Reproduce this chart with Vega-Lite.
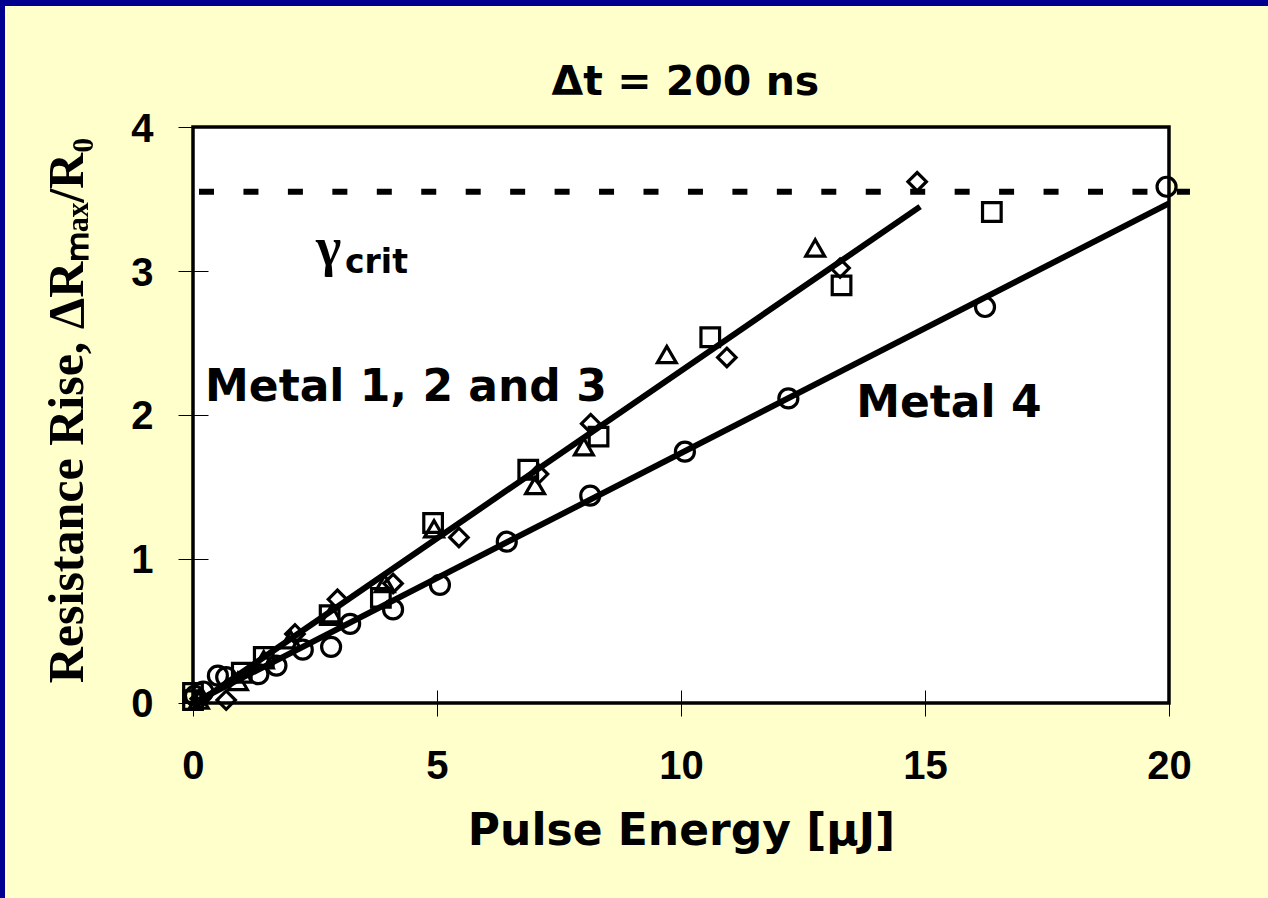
{
  "$schema": "https://vega.github.io/schema/vega-lite/v6.json",
  "autosize": {"type": "none"},
  "padding": {"left": 5, "top": 6, "right": 0, "bottom": 0},
  "width": 1263,
  "height": 892,
  "background": "#000090",
  "config": {"view": {"fill": "#FFFFCC", "stroke": null}},
  "datasets": {
    "frame": [{"x0": 0, "x1": 20, "y0": 0, "y1": 4}],
    "fits": [
      {"series": "Metal 1, 2 and 3", "energy": 0, "rise": -0.02},
      {"series": "Metal 1, 2 and 3", "energy": 14.9, "rise": 3.447},
      {"series": "Metal 4", "energy": 0, "rise": 0},
      {"series": "Metal 4", "energy": 20, "rise": 3.47}
    ],
    "points": [
      {"metal": "Metal 1", "energy": 0.15, "rise": 0.03},
      {"metal": "Metal 1", "energy": 0.68, "rise": 0.02},
      {"metal": "Metal 1", "energy": 2.09, "rise": 0.48},
      {"metal": "Metal 1", "energy": 2.96, "rise": 0.72},
      {"metal": "Metal 1", "energy": 4.1, "rise": 0.83},
      {"metal": "Metal 1", "energy": 5.45, "rise": 1.15},
      {"metal": "Metal 1", "energy": 7.08, "rise": 1.59},
      {"metal": "Metal 1", "energy": 8.15, "rise": 1.94},
      {"metal": "Metal 1", "energy": 10.94, "rise": 2.4},
      {"metal": "Metal 1", "energy": 13.26, "rise": 3.02},
      {"metal": "Metal 1", "energy": 14.84, "rise": 3.62},
      {"metal": "Metal 2", "energy": 0.0, "rise": 0.02},
      {"metal": "Metal 2", "energy": 0.0, "rise": 0.07},
      {"metal": "Metal 2", "energy": 1.0, "rise": 0.21},
      {"metal": "Metal 2", "energy": 1.45, "rise": 0.32},
      {"metal": "Metal 2", "energy": 2.8, "rise": 0.61},
      {"metal": "Metal 2", "energy": 3.85, "rise": 0.73},
      {"metal": "Metal 2", "energy": 4.92, "rise": 1.25},
      {"metal": "Metal 2", "energy": 6.87, "rise": 1.62},
      {"metal": "Metal 2", "energy": 8.31, "rise": 1.85},
      {"metal": "Metal 2", "energy": 10.6, "rise": 2.54},
      {"metal": "Metal 2", "energy": 13.29, "rise": 2.9},
      {"metal": "Metal 2", "energy": 16.37, "rise": 3.41},
      {"metal": "Metal 3", "energy": 0.12, "rise": 0.02},
      {"metal": "Metal 3", "energy": 0.92, "rise": 0.15},
      {"metal": "Metal 3", "energy": 1.45, "rise": 0.3},
      {"metal": "Metal 3", "energy": 2.0, "rise": 0.44},
      {"metal": "Metal 3", "energy": 2.84, "rise": 0.62},
      {"metal": "Metal 3", "energy": 3.93, "rise": 0.83},
      {"metal": "Metal 3", "energy": 4.94, "rise": 1.21},
      {"metal": "Metal 3", "energy": 7.01, "rise": 1.51},
      {"metal": "Metal 3", "energy": 8.01, "rise": 1.78},
      {"metal": "Metal 3", "energy": 9.71, "rise": 2.42},
      {"metal": "Metal 3", "energy": 12.75, "rise": 3.16},
      {"metal": "Metal 4", "energy": 0.04, "rise": 0.05},
      {"metal": "Metal 4", "energy": 0.21, "rise": 0.08},
      {"metal": "Metal 4", "energy": 0.51, "rise": 0.19},
      {"metal": "Metal 4", "energy": 0.68, "rise": 0.18},
      {"metal": "Metal 4", "energy": 1.34, "rise": 0.2},
      {"metal": "Metal 4", "energy": 1.71, "rise": 0.26},
      {"metal": "Metal 4", "energy": 2.25, "rise": 0.37},
      {"metal": "Metal 4", "energy": 2.83, "rise": 0.39},
      {"metal": "Metal 4", "energy": 3.22, "rise": 0.55},
      {"metal": "Metal 4", "energy": 4.1, "rise": 0.65},
      {"metal": "Metal 4", "energy": 5.06, "rise": 0.82},
      {"metal": "Metal 4", "energy": 6.43, "rise": 1.12},
      {"metal": "Metal 4", "energy": 8.14, "rise": 1.44},
      {"metal": "Metal 4", "energy": 10.08, "rise": 1.745},
      {"metal": "Metal 4", "energy": 12.2, "rise": 2.115},
      {"metal": "Metal 4", "energy": 16.23, "rise": 2.75},
      {"metal": "Metal 4", "energy": 19.95, "rise": 3.585}
    ],
    "critical": [{"name": "gamma crit", "level": 3.55, "start": 0.123, "end": 20.43}]
  },
  "layer": [
    {
      "data": {"name": "frame"},
      "mark": {"type": "rect", "fill": "white", "stroke": "black", "strokeWidth": 3.5},
      "encoding": {
        "x": {
          "field": "x0", "type": "quantitative",
          "scale": {"domain": [-3.8525, 22.029], "nice": false, "zero": false},
          "axis": {
            "title": "Pulse Energy [μJ]",
            "values": [0, 5, 10, 15, 20],
            "format": "d",
            "offset": -208,
            "domain": false, "grid": false,
            "tickSize": 26, "tickWidth": 1, "tickColor": "black",
            "labelPadding": 30, "labelFlush": false, "labelOverlap": false,
            "labelFont": "Liberation Sans", "labelFontWeight": "bold", "labelFontSize": 40, "labelColor": "black",
            "titleFont": "DejaVu Sans", "titleFontWeight": "bold", "titleFontSize": 44, "titleColor": "black",
            "titleX": 676, "titleY": 154, "titleAlign": "center", "titleBaseline": "alphabetic",
            "zindex": 1
          }
        },
        "x2": {"field": "x1"},
        "y": {
          "field": "y0", "type": "quantitative",
          "scale": {"domain": [-1.3542, 4.8403], "nice": false, "zero": false},
          "axis": {
            "title": "Resistance Rise, ΔRₘₐₓ/R₀",
            "values": [0, 1, 2, 3, 4],
            "format": "d",
            "offset": -203,
            "domain": false, "grid": false,
            "tickSize": 30, "tickWidth": 1, "tickColor": "black",
            "labelPadding": 25, "labelOffset": 2, "labelFlush": false, "labelOverlap": false,
            "labelFont": "Liberation Sans", "labelFontWeight": "bold", "labelFontSize": 40, "labelColor": "black",
            "titleFont": "Liberation Serif", "titleFontWeight": "bold", "titleFontSize": 50, "titleColor": "black",
            "titleX": -126, "titleY": 404, "titleAngle": 270, "titleAlign": "center", "titleBaseline": "alphabetic",
            "zindex": 1
          }
        },
        "y2": {"field": "y1"}
      }
    },
    {
      "data": {"name": "fits"},
      "mark": {"type": "line", "color": "black", "strokeWidth": 6, "strokeCap": "butt"},
      "encoding": {
        "x": {"field": "energy", "type": "quantitative"},
        "y": {"field": "rise", "type": "quantitative"},
        "detail": {"field": "series"}
      }
    },
    {
      "data": {"name": "points"},
      "mark": {"type": "point", "filled": false, "color": "black", "strokeWidth": 3.2, "opacity": 1},
      "encoding": {
        "x": {"field": "energy", "type": "quantitative"},
        "y": {"field": "rise", "type": "quantitative"},
        "shape": {
          "field": "metal", "type": "nominal",
          "scale": {"domain": ["Metal 1", "Metal 2", "Metal 3", "Metal 4"], "range": ["diamond", "square", "triangle-up", "circle"]},
          "legend": null
        },
        "size": {
          "field": "metal", "type": "ordinal",
          "scale": {"domain": ["Metal 1", "Metal 2", "Metal 3", "Metal 4"], "range": [340, 361, 420, 330]},
          "legend": null
        }
      }
    },
    {
      "data": {"name": "critical"},
      "mark": {"type": "rule", "color": "black", "strokeWidth": 6, "strokeDash": [15, 29.45], "strokeCap": "butt"},
      "encoding": {
        "x": {"field": "start", "type": "quantitative"},
        "x2": {"field": "end"},
        "y": {"field": "level", "type": "quantitative"}
      }
    },
    {
      "data": {"values": [{"label": "Δt = 200 ns", "x": 10.09, "y": 4.222}]},
      "mark": {"type": "text", "font": "DejaVu Sans", "fontWeight": "bold", "fontSize": 41, "align": "center", "baseline": "alphabetic", "color": "black"},
      "encoding": {
        "x": {"field": "x", "type": "quantitative"},
        "y": {"field": "y", "type": "quantitative"},
        "text": {"field": "label"}
      }
    },
    {
      "data": {"values": [
        {"label": "Metal 1, 2 and 3", "x": 0.246, "y": 2.097},
        {"label": "Metal 4", "x": 13.59, "y": 1.986}
      ]},
      "mark": {"type": "text", "font": "DejaVu Sans", "fontWeight": "bold", "fontSize": 44, "align": "left", "baseline": "alphabetic", "color": "black"},
      "encoding": {
        "x": {"field": "x", "type": "quantitative"},
        "y": {"field": "y", "type": "quantitative"},
        "text": {"field": "label"}
      }
    },
    {
      "data": {"values": [{"label": "γ", "x": 2.777, "y": 3.042}]},
      "mark": {"type": "text", "font": "Liberation Serif", "fontWeight": "bold", "fontSize": 54, "align": "center", "baseline": "alphabetic", "color": "black"},
      "encoding": {
        "x": {"field": "x", "type": "quantitative"},
        "y": {"field": "y", "type": "quantitative"},
        "text": {"field": "label"}
      }
    },
    {
      "data": {"values": [{"label": "crit", "x": 3.115, "y": 2.986}]},
      "mark": {"type": "text", "font": "DejaVu Sans", "fontWeight": "bold", "fontSize": 33, "align": "left", "baseline": "alphabetic", "color": "black"},
      "encoding": {
        "x": {"field": "x", "type": "quantitative"},
        "y": {"field": "y", "type": "quantitative"},
        "text": {"field": "label"}
      }
    }
  ]
}
